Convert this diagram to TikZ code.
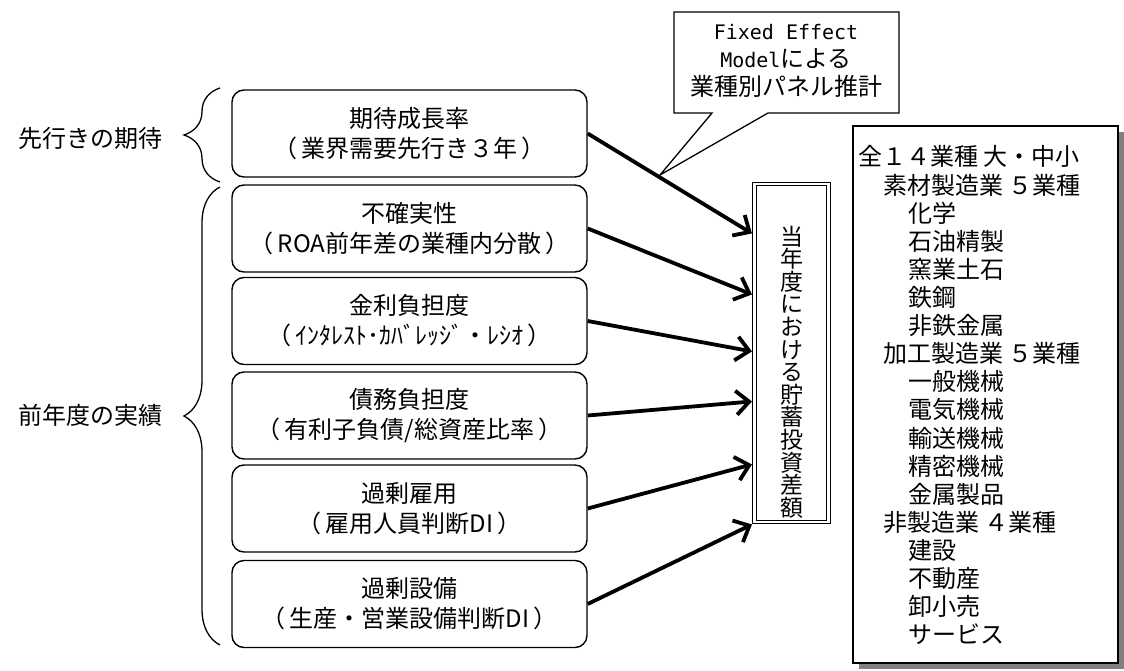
\documentclass[tikz,border=0pt]{standalone}
\usepackage{fontspec}
\setmainfont{Noto Sans CJK JP}
\newfontfamily\hw{DejaVu Sans Mono}
\usetikzlibrary{arrows.meta,decorations.pathreplacing,shadows,calc}
\begin{document}
\begin{tikzpicture}[x=1pt,y=-1pt,
  factor/.style={draw,line width=1.4pt,rounded corners=12pt,minimum width=355pt,minimum height=87pt,align=center,inner sep=0pt,font=\fontsize{24}{30}\selectfont},
  arr/.style={line width=3.8pt,-{Straight Barb[length=13pt,width=24pt]}},
  brc/.style={decorate,decoration={brace,amplitude=36pt},line width=1.3pt},
  lbl/.style={font=\fontsize{24}{30}\selectfont},
  listitem/.style={anchor=base west,inner sep=0pt,font=\fontsize{24}{28}\selectfont},
]
\useasboundingbox (0,0) rectangle (1124,671);

% factor boxes
\node[factor] (b1) at (409.5,133.5) {期待成長率\\（\,業界需要先行き３年\,）};
\node[factor] (b2) at (409.5,228.5) {不確実性\\（\,ROA前年差の業種内分散\,）};
\node[factor] (b3) at (409.5,321) {金利負担度\\（\,ｲﾝﾀﾚｽﾄ･ｶﾊﾞﾚｯｼﾞ・ﾚｼｵ\,）};
\node[factor] (b4) at (409.5,415.5) {債務負担度\\（\,有利子負債/総資産比率\,）};
\node[factor] (b5) at (409.5,508.5) {過剰雇用\\（\,雇用人員判断DI\,）};
\node[factor] (b6) at (409.5,604) {過剰設備\\（\,生産・営業設備判断DI\,）};

% braces and labels
\coordinate (br1t) at (220,88);
\coordinate (br1b) at (220,182);
\coordinate (br2t) at (220,187);
\coordinate (br2b) at (220,645);
\draw[brc] (br1b) -- (br1t);
\draw[brc] (br2b) -- (br2t);
\node[lbl] (lab1) at (91,138) {先行きの期待};
\node[lbl] (lab2) at (91,415) {前年度の実績};

% target box
\node[draw,double,double distance=2.5pt,line width=1.1pt,minimum width=74pt,minimum height=338pt,inner sep=0pt] (t) at (791.5,353) {};
\node[align=center,inner sep=0pt,font=\fontsize{23}{22.6}\selectfont] (ttext) at (791.5,372) {当\\年\\度\\に\\お\\け\\る\\貯\\蓄\\投\\資\\差\\額};

% arrow end points
\coordinate (e1) at ($(t.north west)+(-2,50)$);
\coordinate (e2) at ($(t.north west)+(-2,111)$);
\coordinate (e3) at ($(t.north west)+(-2,168)$);
\coordinate (e4) at ($(t.north west)+(-2,218)$);
\coordinate (e5) at ($(t.north west)+(-2,281)$);
\coordinate (e6) at ($(t.north west)+(-2,341)$);
\draw[arr] (b1.east) -- (e1);
\draw[arr] (b2.east) -- (e2);
\draw[arr] (b3.east) -- (e3);
\draw[arr] (b4.east) -- (e4);
\draw[arr] (b5.east) -- (e5);
\draw[arr] (b6.east) -- (e6);

% callout
\coordinate (ctip) at (660,175);
\draw[line width=1.3pt,fill=white] (674,12) -- (899,12) -- (899,113) -- (768,113) -- (ctip) -- (712,113) -- (674,113) -- cycle;
\node[align=center,inner sep=0pt,font=\fontsize{24}{28}\selectfont] (callout) at (786,61) {{\hw\fontsize{20}{28}\selectfont Fixed Effect}\\{\hw\fontsize{20}{28}\selectfont Model}による\\業種別パネル推計};

% industry list
\node[draw,fill=white,line width=1.6pt,minimum width=265pt,minimum height=537pt,inner sep=0pt,
  drop shadow={shadow xshift=6pt,shadow yshift=-6pt,fill=black!50,opacity=1}] (list) at (985.5,394.5) {};
\foreach \txt/\lev [count=\i from 0] in {全１４業種 大・中小/0,素材製造業 ５業種/1,化学/2,石油精製/2,窯業土石/2,鉄鋼/2,非鉄金属/2,加工製造業 ５業種/1,一般機械/2,電気機械/2,輸送機械/2,精密機械/2,金属製品/2,非製造業 ４業種/1,建設/2,不動産/2,卸小売/2,サービス/2}
  \node[listitem] (L\i) at (858+25*\lev,166+28.1*\i) {\txt};
\end{tikzpicture}
\end{document}
